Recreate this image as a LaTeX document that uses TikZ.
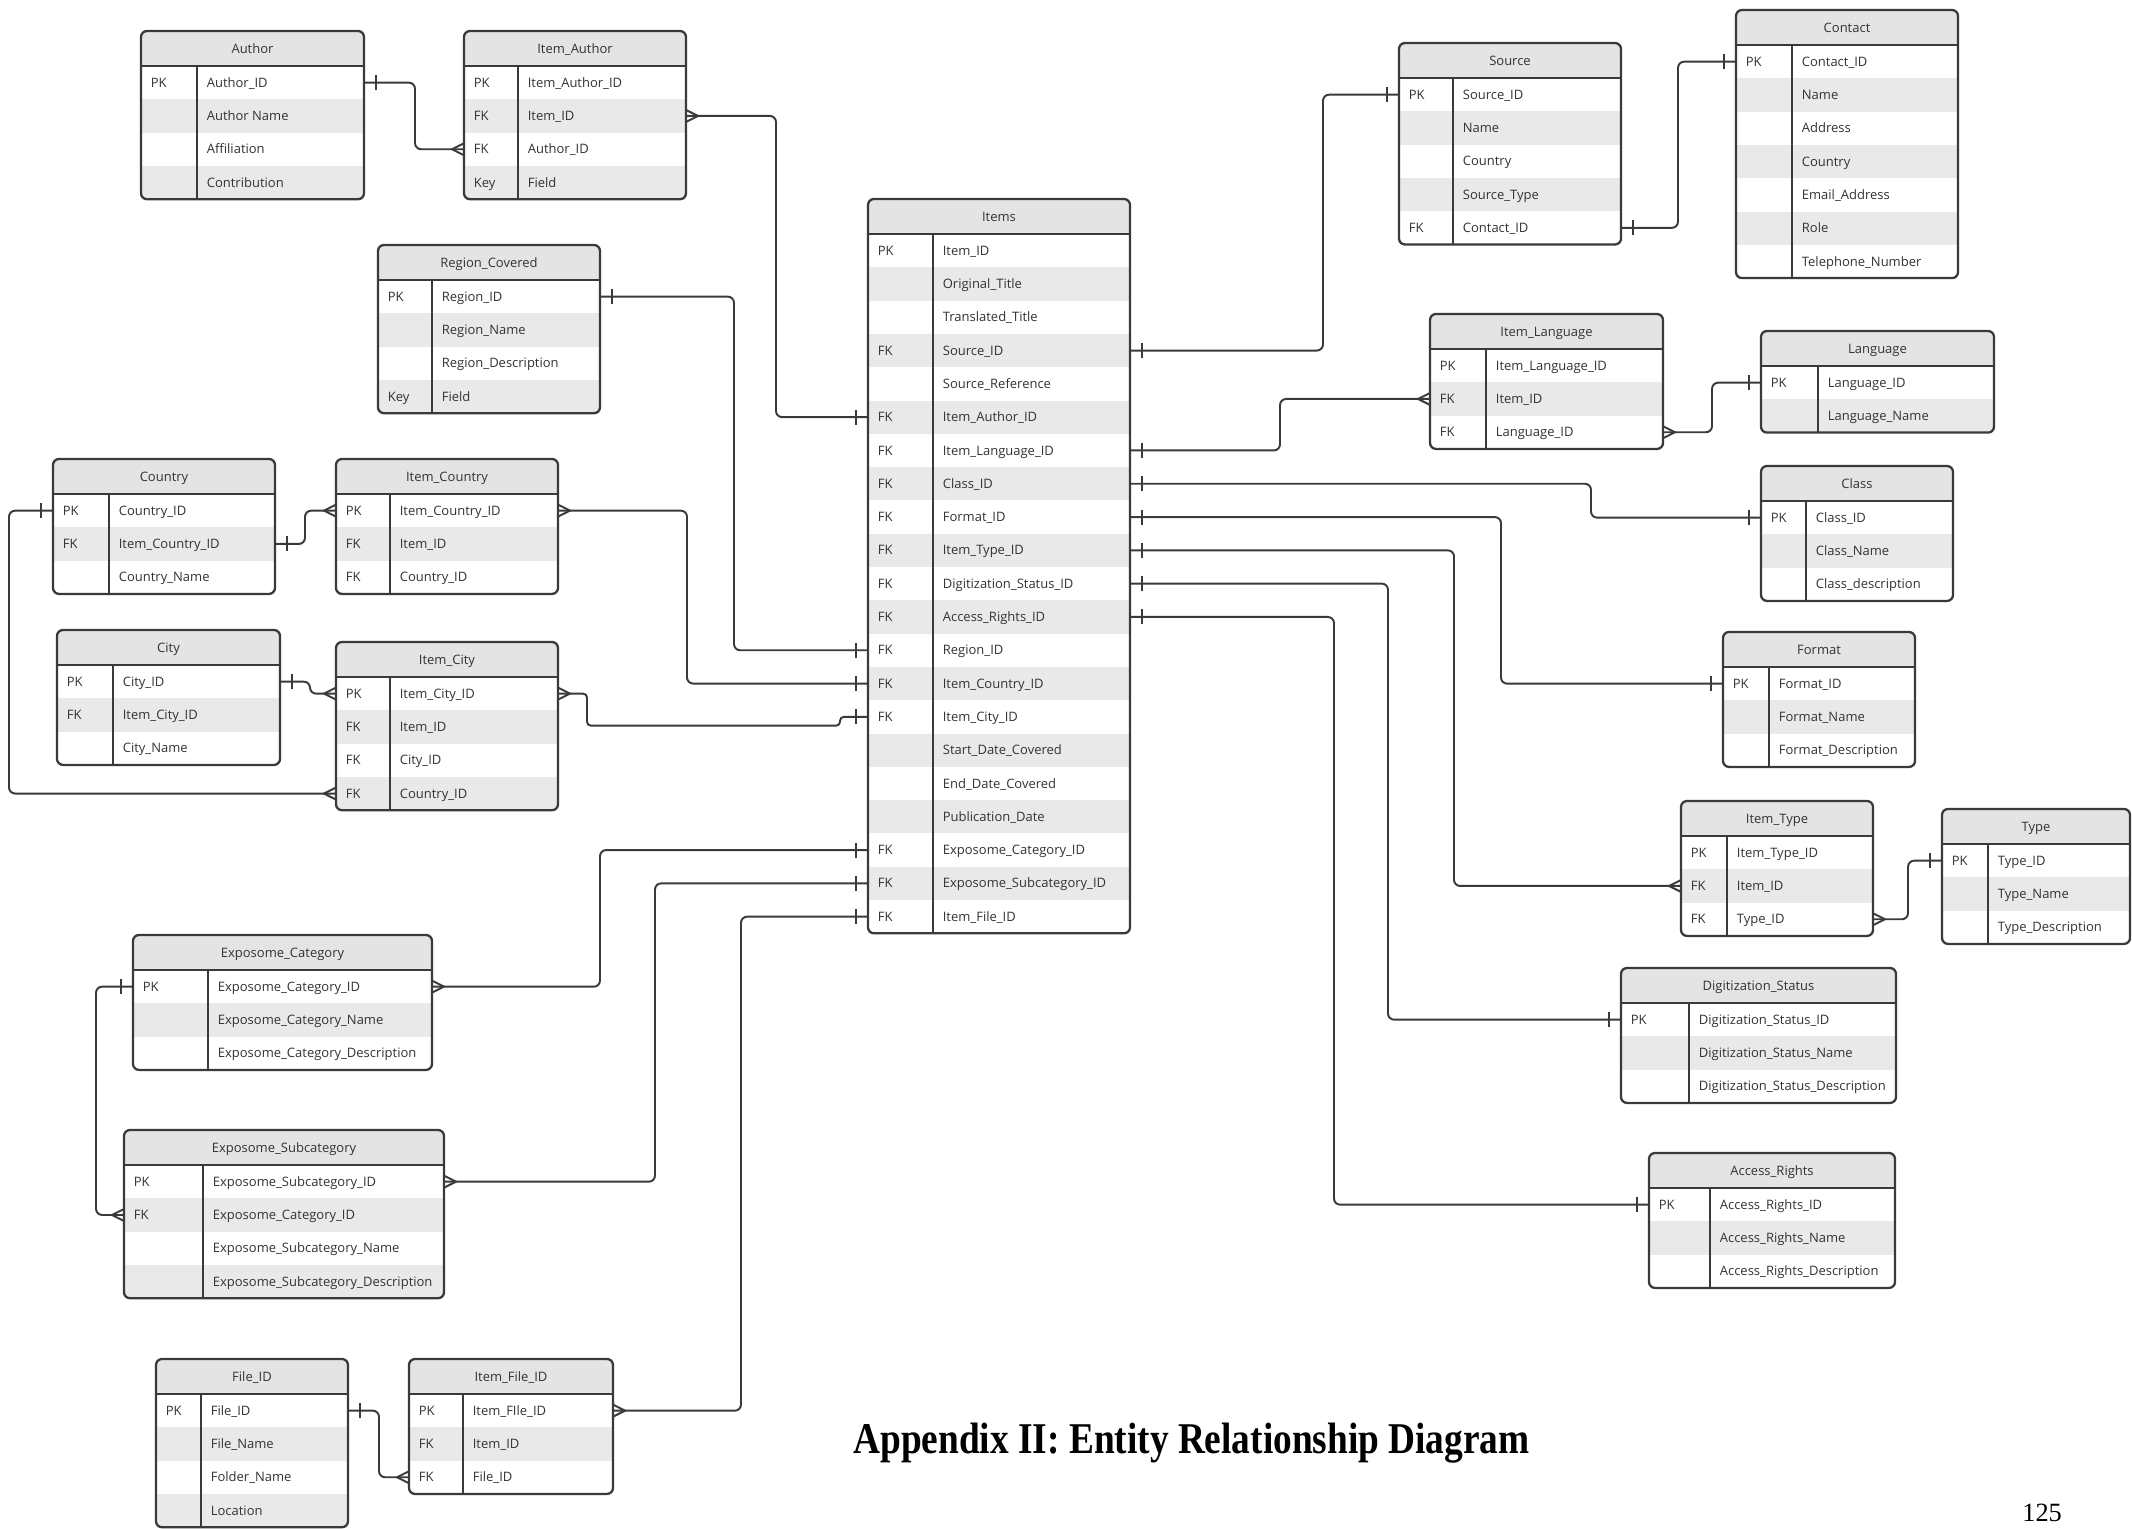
\documentclass[tikz,border=0pt]{standalone}
\usepackage{fontspec}
\usepackage{graphicx}
\usetikzlibrary{decorations.markings}

\newfontfamily\erfont{Open Sans}
\newfontfamily\capfont{Liberation Serif}

\definecolor{hdrgrey}{HTML}{E4E4E4}
\definecolor{rowgrey}{HTML}{E9E9E9}
\definecolor{edge}{HTML}{3A3A3A}
\definecolor{ink}{HTML}{333333}

\tikzset{
  tblborder/.style={draw=edge, line width=1.3pt, rounded corners=3.4pt, inner sep=0pt, outer sep=0pt},
  tblline/.style={draw=edge, line width=1.3pt},
  rowslot/.style={inner sep=0pt, outer sep=0pt},
  keytxt/.style={anchor=base west, inner sep=0pt, text=ink, font=\erfont\fontsize{7.4}{9}\selectfont},
  fldtxt/.style={keytxt},
  ttltxt/.style={anchor=base, inner sep=0pt, text=ink, font=\erfont\fontsize{7.4}{9}\selectfont},
  link/.style={draw=edge, line width=1.1pt, rounded corners=3.5pt},
  marker/.style={draw=edge, line width=1.1pt, sharp corners},
  onestart/.style={postaction={decorate, decoration={markings,
      mark=at position 0.24cm with {\draw[marker] (0,-0.15cm) -- (0,0.15cm);}}}},
  oneend/.style={postaction={decorate, decoration={markings,
      mark=at position -0.24cm with {\draw[marker] (0,-0.15cm) -- (0,0.15cm);}}}},
  manystart/.style={postaction={decorate, decoration={markings,
      mark=at position 0.24cm with {\draw[marker] (-0.24cm,0.12cm) -- (0,0) -- (-0.24cm,-0.12cm);}}}},
  manyend/.style={postaction={decorate, decoration={markings,
      mark=at position -0.24cm with {\draw[marker] (0.24cm,0.12cm) -- (0,0) -- (0.24cm,-0.12cm);}}}},
}

% header height and row height, in picture units
\def\erhdr{35}
\def\errow{33.3}

% \ertable{name}{x}{y}{width}{key column width}{title}{key/field, ...}
\newcommand{\ertable}[7]{%
  \foreach \k/\f [count=\ri] in {#7} {\xdef\errows{\ri}}%
  \pgfmathsetmacro{\erH}{\erhdr+\errows*\errow}%
  \begin{scope}
    \clip[rounded corners=3.4pt] (#2,#3) rectangle ++(#4,\erH);
    \fill[hdrgrey] (#2,#3) rectangle ++(#4,\erhdr);
    \foreach \k/\f [count=\ri] in {#7} {%
      \ifodd\ri\relax\else
        \fill[rowgrey] (#2,{#3+\erhdr+(\ri-1)*\errow}) rectangle ++(#4,\errow);
      \fi}
  \end{scope}
  \node[tblborder, minimum width={#4*0.02cm}, minimum height={\erH*0.02cm}, anchor=north west] (#1) at (#2,#3) {};
  \draw[tblline] (#2,{#3+\erhdr}) -- ++(#4,0);
  \draw[tblline] ({#2+#5},{#3+\erhdr}) -- ({#2+#5},{#3+\erH});
  \node[ttltxt] (#1-t) at ({#2+#4/2},{#3+\erhdr/2+4.6}) {#6};
  \foreach \k/\f [count=\ri] in {#7} {%
    \pgfmathsetmacro{\yc}{#3+\erhdr+(\ri-0.5)*\errow}%
    \node[rowslot, minimum width={#4*0.02cm}, minimum height={\errow*0.02cm}] (#1-\ri) at ({#2+#4/2},\yc) {};
    \node[keytxt] (#1-\ri-k) at ({#2+9.5},{\yc+4.6}) {\k};
    \node[fldtxt] (#1-\ri-f) at ({#2+#5+9.5},{\yc+4.6}) {\f};
  }%
}

\begin{document}
\begin{tikzpicture}[x=0.02cm, y=-0.02cm]
\path[use as bounding box, fill=white] (0,0) rectangle (2132,1528);

% ---------- entities ----------
\ertable{author}{141}{31}{223}{56}{Author}
  {PK/Author\_ID, {}/Author Name, {}/Affiliation, {}/Contribution}
\ertable{itemauthor}{464}{31}{222}{54}{Item\_Author}
  {PK/Item\_Author\_ID, FK/Item\_ID, FK/Author\_ID, Key/Field}
\ertable{region}{378}{245}{222}{54}{Region\_Covered}
  {PK/Region\_ID, {}/Region\_Name, {}/Region\_Description, Key/Field}
\ertable{country}{53}{459}{222}{56}{Country}
  {PK/Country\_ID, FK/Item\_Country\_ID, {}/Country\_Name}
\ertable{itemcountry}{336}{459}{222}{54}{Item\_Country}
  {PK/Item\_Country\_ID, FK/Item\_ID, FK/Country\_ID}
\ertable{city}{57}{630}{223}{56}{City}
  {PK/City\_ID, FK/Item\_City\_ID, {}/City\_Name}
\ertable{itemcity}{336}{642}{222}{54}{Item\_City}
  {PK/Item\_City\_ID, FK/Item\_ID, FK/City\_ID, FK/Country\_ID}
\ertable{items}{868}{199}{262}{65}{Items}
  {PK/Item\_ID, {}/Original\_Title, {}/Translated\_Title, FK/Source\_ID,
   {}/Source\_Reference, FK/Item\_Author\_ID, FK/Item\_Language\_ID, FK/Class\_ID,
   FK/Format\_ID, FK/Item\_Type\_ID, FK/Digitization\_Status\_ID, FK/Access\_Rights\_ID,
   FK/Region\_ID, FK/Item\_Country\_ID, FK/Item\_City\_ID, {}/Start\_Date\_Covered,
   {}/End\_Date\_Covered, {}/Publication\_Date, FK/Exposome\_Category\_ID,
   FK/Exposome\_Subcategory\_ID, FK/Item\_File\_ID}
\ertable{source}{1399}{43}{222}{54}{Source}
  {PK/Source\_ID, {}/Name, {}/Country, {}/Source\_Type, FK/Contact\_ID}
\ertable{contact}{1736}{10}{222}{56}{Contact}
  {PK/Contact\_ID, {}/Name, {}/Address, {}/Country, {}/Email\_Address, {}/Role, {}/Telephone\_Number}
\ertable{itemlanguage}{1430}{314}{233}{56}{Item\_Language}
  {PK/Item\_Language\_ID, FK/Item\_ID, FK/Language\_ID}
\ertable{language}{1761}{331}{233}{57}{Language}
  {PK/Language\_ID, {}/Language\_Name}
\ertable{class}{1761}{466}{192}{45}{Class}
  {PK/Class\_ID, {}/Class\_Name, {}/Class\_description}
\ertable{format}{1723}{632}{192}{46}{Format}
  {PK/Format\_ID, {}/Format\_Name, {}/Format\_Description}
\ertable{itemtype}{1681}{801}{192}{46}{Item\_Type}
  {PK/Item\_Type\_ID, FK/Item\_ID, FK/Type\_ID}
\ertable{type}{1942}{809}{188}{46}{Type}
  {PK/Type\_ID, {}/Type\_Name, {}/Type\_Description}
\ertable{digit}{1621}{968}{275}{68}{Digitization\_Status}
  {PK/Digitization\_Status\_ID, {}/Digitization\_Status\_Name, {}/Digitization\_Status\_Description}
\ertable{access}{1649}{1153}{246}{61}{Access\_Rights}
  {PK/Access\_Rights\_ID, {}/Access\_Rights\_Name, {}/Access\_Rights\_Description}
\ertable{expcat}{133}{935}{299}{75}{Exposome\_Category}
  {PK/Exposome\_Category\_ID, {}/Exposome\_Category\_Name, {}/Exposome\_Category\_Description}
\ertable{expsub}{124}{1130}{320}{79}{Exposome\_Subcategory}
  {PK/Exposome\_Subcategory\_ID, FK/Exposome\_Category\_ID, {}/Exposome\_Subcategory\_Name, {}/Exposome\_Subcategory\_Description}
\ertable{file}{156}{1359}{192}{45}{File\_ID}
  {PK/File\_ID, {}/File\_Name, {}/Folder\_Name, {}/Location}
\ertable{itemfile}{409}{1359}{204}{54}{Item\_File\_ID}
  {PK/Item\_FIle\_ID, FK/Item\_ID, FK/File\_ID}

% ---------- relationships ----------
\draw[link,onestart,manyend] (author-1.east) -- ++(51,0) |- (itemauthor-3.west);
\draw[link,manystart,oneend] (itemauthor-2.east) -- ++(90,0) |- (items-6.west);
\draw[link,onestart,oneend] (region-1.east) -- ++(134,0) |- (items-13.west);
\draw[link,manystart,oneend] (itemcountry-1.east) -- ++(129,0) |- (items-14.west);
\draw[link,manystart,oneend,rounded corners=2.2pt] (itemcity-1.east) -- ++(29,0) -- ++(0,32)
  -| ([xshift=-0.56cm]items-15.west) -- (items-15.west);
\draw[link,onestart,manyend] (country-2.east) -- ++(30,0) |- (itemcountry-1.west);
\draw[link,onestart,manyend] (country-1.west) -- ++(-44,0) |- (itemcity-4.west);
\draw[link,onestart,manyend] (city-1.east) -- ++(30,0) |- (itemcity-1.west);
\draw[link,onestart,oneend] (items-4.east) -- ++(193,0) |- (source-1.west);
\draw[link,onestart,oneend] (source-5.east) -- ++(57,0) |- (contact-1.west);
\draw[link,onestart,manyend] (items-7.east) -- ++(150,0) |- (itemlanguage-2.west);
\draw[link,manystart,oneend] (itemlanguage-3.east) -- ++(49,0) |- (language-1.west);
\draw[link,onestart,oneend] (items-8.east) -- ++(461,0) |- (class-1.west);
\draw[link,onestart,oneend] (items-9.east) -- ++(371,0) |- (format-1.west);
\draw[link,onestart,manyend] (items-10.east) -- ++(324,0) |- (itemtype-2.west);
\draw[link,manystart,oneend] (itemtype-3.east) -- ++(35,0) |- (type-1.west);
\draw[link,onestart,oneend] (items-11.east) -- ++(258,0) |- (digit-1.west);
\draw[link,onestart,oneend] (items-12.east) -- ++(204,0) |- (access-1.west);
\draw[link,manystart,oneend] (expcat-1.east) -- ++(168,0) |- (items-19.west);
\draw[link,manystart,oneend] (expsub-1.east) -- ++(211,0) |- (items-20.west);
\draw[link,onestart,manyend] (expcat-1.west) -- ++(-37,0) |- (expsub-2.west);
\draw[link,manystart,oneend] (itemfile-1.east) -- ++(128,0) |- (items-21.west);
\draw[link,onestart,manyend] (file-1.east) -- ++(31,0) |- (itemfile-3.west);

% ---------- caption and page number ----------
\node[anchor=base west, inner sep=0pt, font=\capfont\bfseries\fontsize{25}{30}\selectfont] (caption)
  at (853,1453) {\scalebox{0.85}[1]{Appendix II: Entity Relationship Diagram}};
\node[anchor=base west, inner sep=0pt, font=\capfont\fontsize{15}{18}\selectfont] (pagenum)
  at (2022,1521) {125};
\end{tikzpicture}
\end{document}
